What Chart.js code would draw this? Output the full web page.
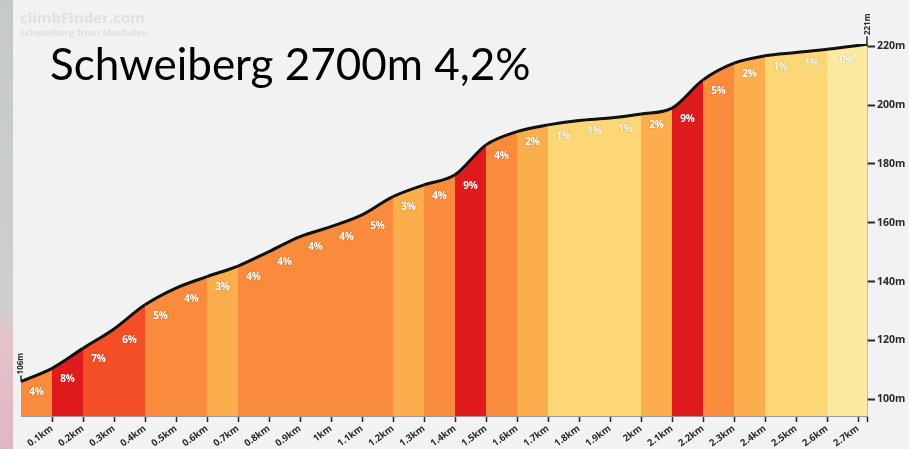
<!DOCTYPE html>
<html><head><meta charset="utf-8">
<script src="https://cdn.jsdelivr.net/npm/chart.js@4/dist/chart.umd.min.js"></script>
<style>
html,body{margin:0;padding:0;background:#f2f2f2;}
#wrap{position:relative;width:909px;height:449px;overflow:hidden;background:#f2f2f2;}
#strip{position:absolute;left:0;top:0;width:13px;height:449px;background:linear-gradient(#c6c9c9 0%,#cdd0cf 68%,#e6c2ca 76%,#e0b6c2 100%);}
#c{position:absolute;left:0;top:0;}
</style></head><body>
<div id="wrap"><div id="strip"></div><canvas id="c" width="909" height="449"></canvas></div>
<script>
const TITLE = 'Schweiberg 2700m 4,2%';
const WATERMARK = 'climbFinder.com';
const SUBTITLE = 'Schweiberg from Mechelen';

const distanceKm = [0,0.1,0.2,0.3,0.4,0.5,0.6,0.7,0.8,0.9,1.0,1.1,1.2,1.3,1.4,1.5,1.6,1.7,1.8,1.9,2.0,2.1,2.2,2.3,2.4,2.5,2.6,2.729];
const elevationM = [106,110.5,117.3,123.9,132.1,137.8,141.7,145.3,150.2,155.3,158.7,162.7,168.9,172.9,176.3,186.5,191.0,193.3,194.8,195.6,197.0,199.0,208.6,214.3,216.8,217.9,219.0,220.7];
const gradientPct = [4,8,7,6,5,4,3,4,4,4,4,5,3,4,9,4,2,1,1,1,2,9,5,2,1,1,0];

const xTickValues = [0.1,0.2,0.3,0.4,0.5,0.6,0.7,0.8,0.9,1.0,1.1,1.2,1.3,1.4,1.5,1.6,1.7,1.8,1.9,2.0,2.1,2.2,2.3,2.4,2.5,2.6,2.7];
const xTickLabels = ['0.1km','0.2km','0.3km','0.4km','0.5km','0.6km','0.7km','0.8km','0.9km','1km','1.1km','1.2km','1.3km','1.4km','1.5km','1.6km','1.7km','1.8km','1.9km','2km','2.1km','2.2km','2.3km','2.4km','2.5km','2.6km','2.7km'];
const yTickValues = [100,120,140,160,180,200,220];

function colorFor(g){
  if (g >= 8) return '#e01b1e';
  if (g >= 6) return '#f44e27';
  if (g >= 4) return '#fa8b3c';
  if (g >= 2) return '#fcae4c';
  if (g >= 1) return '#fdd675';
  return '#fde99f';
}

const overlay = {
  id: 'overlay',
  afterDatasetsDraw(chart){
    const ctx = chart.ctx, xs = chart.scales.x, ys = chart.scales.y;
    ctx.save();
    ctx.font = 'bold 10px "Open Sans"';
    ctx.textAlign = 'center'; ctx.textBaseline = 'middle';
    ctx.shadowColor = 'rgba(0,0,0,0.25)'; ctx.shadowBlur = 2;
    for (let i = 0; i < gradientPct.length; i++){
      const x = (xs.getPixelForValue(distanceKm[i]) + xs.getPixelForValue(distanceKm[i+1]))/2;
      const y = ys.getPixelForValue(elevationM[i]) + 11;
      ctx.fillStyle = gradientPct[i] <= 1 ? 'rgba(255,255,255,0.85)' : '#ffffff';
      ctx.fillText(gradientPct[i] + '%', x, y);
    }
    ctx.restore();
    ctx.save();
    ctx.fillStyle = '#2a2a2a'; ctx.strokeStyle = '#2a2a2a'; ctx.lineWidth = 1.5;
    ctx.font = 'bold 8px "Open Sans"';
    ctx.textAlign = 'center'; ctx.textBaseline = 'middle';
    const x0 = xs.getPixelForValue(distanceKm[0]), y0 = ys.getPixelForValue(elevationM[0]);
    ctx.beginPath(); ctx.moveTo(x0, y0); ctx.lineTo(x0, y0 - 6); ctx.stroke();
    ctx.save(); ctx.translate(x0, y0 - 18); ctx.rotate(-Math.PI/2);
    ctx.fillText(Math.round(elevationM[0]) + 'm', 0, 0); ctx.restore();
    const n = distanceKm.length - 1;
    const x1 = xs.getPixelForValue(distanceKm[n]), y1 = ys.getPixelForValue(elevationM[n]);
    ctx.beginPath(); ctx.moveTo(x1, y1 + 2); ctx.lineTo(x1, y1 - 8); ctx.stroke();
    ctx.save(); ctx.translate(x1 + 1, y1 - 20); ctx.rotate(-Math.PI/2);
    ctx.fillText(Math.round(elevationM[n]) + 'm', 0, 0); ctx.restore();
    ctx.restore();
  },
  afterDraw(chart){
    const ctx = chart.ctx;
    ctx.save();
    ctx.fillStyle = '#e0e0e0';
    ctx.font = 'bold 15px "Open Sans"';
    ctx.textBaseline = 'alphabetic'; ctx.textAlign = 'left';
    ctx.fillText(WATERMARK, 20, 23);
    ctx.font = 'bold 9.5px "Open Sans"';
    ctx.fillText(SUBTITLE, 20, 36);
    ctx.fillStyle = '#000';
    ctx.font = '44px Lato';
    ctx.fillText(TITLE, 50, 80);
    ctx.restore();
  }
};

new Chart(document.getElementById('c'), {
  type: 'line',
  data: {
    datasets: [{
      data: distanceKm.map((x, i) => ({x: x, y: elevationM[i]})),
      borderColor: '#111',
      borderWidth: 3,
      pointRadius: 0,
      cubicInterpolationMode: 'monotone',
      fill: 'start',
      backgroundColor: colorFor(gradientPct[0]),
      segment: {
        backgroundColor: c => colorFor(gradientPct[c.p0DataIndex])
      }
    }]
  },
  options: {
    responsive: false,
    animation: false,
    layout: { padding: { left: 21, top: 44, right: 0, bottom: 0 } },
    plugins: { legend: { display: false }, tooltip: { enabled: false } },
    scales: {
      x: {
        type: 'linear', min: 0, max: distanceKm[distanceKm.length - 1],
        afterBuildTicks: s => { s.ticks = xTickValues.map(v => ({value: v})).concat([{value: distanceKm[distanceKm.length - 1]}]); },
        ticks: {
          autoSkip: false, minRotation: 36, maxRotation: 36, padding: 1,
          color: '#2a2a2a', font: { family: '"Open Sans"', weight: 'bold', size: 9.5 },
          callback: (v, i) => xTickLabels[i] || ''
        },
        grid: { display: true, drawOnChartArea: false, tickLength: 6, tickColor: '#2a2a2a', tickWidth: 1.5 },
        border: { display: true, color: '#9a9a9a', width: 1 },
        afterFit: s => { s.height = 33; }
      },
      y: {
        type: 'linear', position: 'right', min: 94.3, max: 220.8,
        afterBuildTicks: s => { s.ticks = yTickValues.map(v => ({value: v})); },
        ticks: {
          padding: 2, color: '#2a2a2a', font: { family: '"Open Sans"', weight: 'bold', size: 10.5 },
          callback: v => v + 'm'
        },
        grid: { display: true, drawOnChartArea: false, tickLength: 8, tickColor: '#2a2a2a', tickWidth: 2 },
        border: { display: true, color: '#8a8a8a', width: 1.5 },
        afterFit: s => { s.width = 42; }
      }
    }
  },
  plugins: [overlay]
});
</script>
</body></html>
